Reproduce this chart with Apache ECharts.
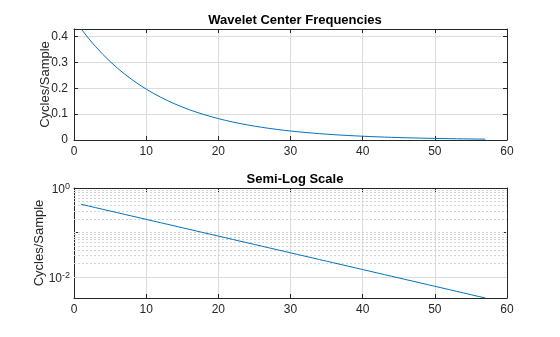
<!DOCTYPE html>
<html><head><meta charset="utf-8">
<script src="https://cdn.jsdelivr.net/npm/echarts@6/dist/echarts.min.js"></script>
<style>html,body{margin:0;background:#fff}#c{width:560px;height:337px}</style>
</head><body><div id="c"></div>
<script>
// Scale index and wavelet center frequency (cycles/sample), 8 voices per octave
const scaleIndex = [1,2,3,4,5,6,7,8,9,10,11,12,13,14,15,16,17,18,19,20,21,22,23,24,25,26,27,28,29,30,
  31,32,33,34,35,36,37,38,39,40,41,42,43,44,45,46,47,48,49,50,51,52,53,54,55,56,57];
const centerFreq = [
  0.4300,0.3943,0.3616,0.3316,0.3041,0.2788,0.2557,0.2345,
  0.2150,0.1972,0.1808,0.1658,0.1520,0.1394,0.1278,0.1172,
  0.1075,0.0986,0.0904,0.0829,0.0760,0.0697,0.0639,0.0586,
  0.05375,0.04929,0.04520,0.04145,0.03801,0.03485,0.03196,0.02931,
  0.02688,0.02464,0.02260,0.02072,0.01900,0.01743,0.01598,0.01465,
  0.01344,0.01232,0.01130,0.01036,0.00950,0.00871,0.00799,0.00733,
  0.00672,0.00616,0.00565,0.00518,0.00475,0.00436,0.00399,0.00366,
  0.00336
];

// Axis settings
const xRange = [0, 60];
const xStep = 10;
const linearYStep = 0.1;
const logLabelExponents = [-2, 0];
const logMajorGrid = [0.01];
const logMinorGrid = [0.004,0.005,0.006,0.007,0.008,0.009,
  0.02,0.03,0.04,0.05,0.06,0.07,0.08,0.09,
  0.1,0.2,0.3,0.4,0.5,0.6,0.7,0.8,0.9];

const ink = '#262626';
const gridGray = '#dcdcdc';
const lineBlue = '#0072BD';
const font = '"Liberation Sans", Arial, Helvetica, sans-serif';

const pts = scaleIndex.map((x, i) => [x, centerFreq[i]]);
const yMaxLin = Math.max(...centerFreq);
const yMinLog = Math.min(...centerFreq);

function boxAxis(base, extra) {
  return Object.assign({
    axisLine: { show: true, onZero: false, lineStyle: { color: ink, width: 1 } },
    axisTick: { show: true, inside: true, length: 4, lineStyle: { color: ink } },
    axisLabel: { show: false },
    splitLine: { show: false }
  }, base, extra || {});
}

const xMain = (gi) => boxAxis({ type: 'value', gridIndex: gi, position: 'bottom', min: xRange[0], max: xRange[1], interval: xStep }, {
  axisLabel: { show: true, color: ink, fontSize: 12, fontFamily: font, margin: 6 },
  splitLine: { show: true, lineStyle: { color: gridGray, width: 1 } }
});
const xMirror = (gi) => boxAxis({ type: 'value', gridIndex: gi, position: 'top', min: xRange[0], max: xRange[1], interval: xStep });

const option = {
  animation: false,
  backgroundColor: '#fff',
  title: [
    { text: 'Wavelet Center Frequencies', left: 290, top: 9, textAlign: 'center',
      textStyle: { fontFamily: font, fontSize: 13, fontWeight: 'bold', color: '#000' } },
    { text: 'Semi-Log Scale', left: 290, top: 168, textAlign: 'center',
      textStyle: { fontFamily: font, fontSize: 13, fontWeight: 'bold', color: '#000' } }
  ],
  grid: [
    { left: 74, right: 53, top: 29, height: 111 },
    { left: 74, right: 53, top: 188, height: 110 }
  ],
  xAxis: [xMain(0), xMirror(0), xMain(1), xMirror(1)],
  yAxis: [
    boxAxis({ type: 'value', gridIndex: 0, position: 'left', min: 0, max: yMaxLin, interval: linearYStep,
      name: 'Cycles/Sample', nameLocation: 'middle', nameGap: 22, nameMoveOverlap: false,
      nameTextStyle: { fontFamily: font, fontSize: 13, color: ink } }, {
      axisLabel: { show: true, color: ink, fontSize: 12, fontFamily: font, margin: 6, showMaxLabel: false },
      splitLine: { show: true, lineStyle: { color: gridGray, width: 1 } }
    }),
    boxAxis({ type: 'value', gridIndex: 0, position: 'right', min: 0, max: yMaxLin, interval: linearYStep }),
    boxAxis({ type: 'log', logBase: 10, gridIndex: 1, position: 'left', min: yMinLog, max: 1,
      name: 'Cycles/Sample', nameLocation: 'middle', nameGap: 28, nameMoveOverlap: false,
      nameTextStyle: { fontFamily: font, fontSize: 13, color: ink } }, {
      axisLabel: {
        show: true, margin: 4, fontFamily: font,
        formatter: (v) => {
          const lv = Math.log10(v);
          const e = Math.round(lv);
          if (Math.abs(lv - e) > 1e-6 || logLabelExponents.indexOf(e) < 0) return '';
          return '{b|10}{s|' + e + '}';
        },
        rich: {
          b: { fontSize: 12, color: ink, fontFamily: font, padding: [4, 0, 0, 0] },
          s: { fontSize: 9, color: ink, fontFamily: font, verticalAlign: 'bottom', padding: [0, 0, 5, 0] }
        }
      }
    }),
    boxAxis({ type: 'log', logBase: 10, gridIndex: 1, position: 'right', min: yMinLog, max: 1 })
  ],
  series: [
    {
      type: 'line', xAxisIndex: 0, yAxisIndex: 0, data: pts, showSymbol: false, z: 3,
      lineStyle: { color: lineBlue, width: 1 }, itemStyle: { color: lineBlue }
    },
    {
      type: 'line', xAxisIndex: 2, yAxisIndex: 2, data: pts, showSymbol: false, z: 3,
      lineStyle: { color: lineBlue, width: 1 }, itemStyle: { color: lineBlue },
      markLine: {
        silent: true, z: 1, symbol: ['none', 'none'], label: { show: false }, animation: false,
        data: logMinorGrid.map(v => ({ yAxis: v, lineStyle: { type: [2, 2], color: '#d2d2d2', width: 1 } }))
          .concat(logMajorGrid.map(v => ({ yAxis: v, lineStyle: { type: 'solid', color: gridGray, width: 1 } })))
      }
    }
  ]
};

const chart = echarts.init(document.getElementById('c'), null, { renderer: 'canvas' });
chart.setOption(option);
</script>
</body></html>
